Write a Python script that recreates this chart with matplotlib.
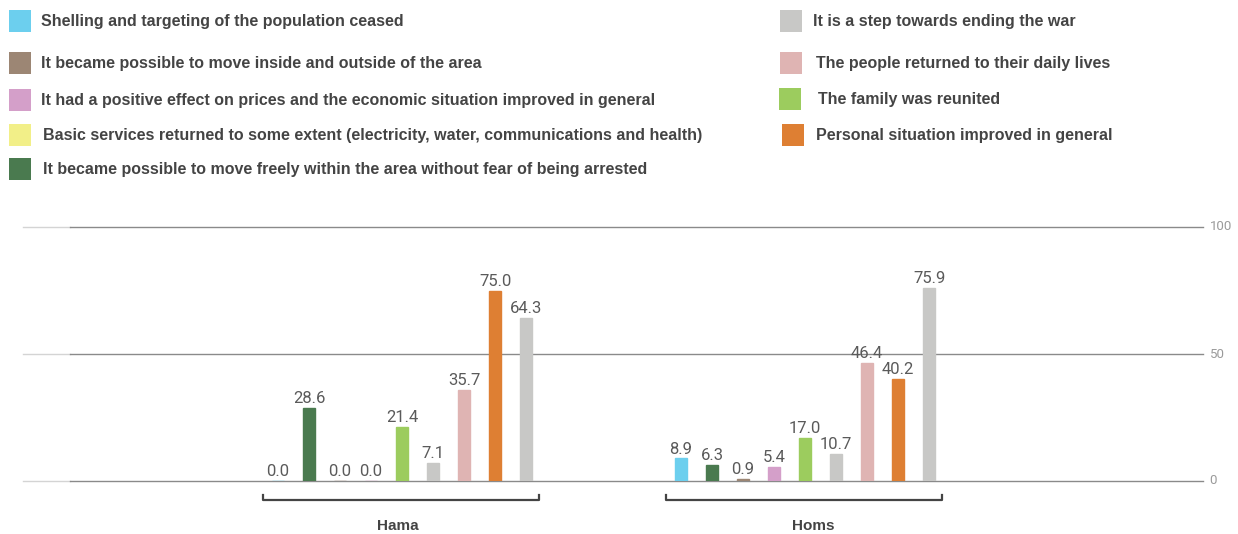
import matplotlib
matplotlib.use("Agg")
import matplotlib.pyplot as plt
from matplotlib.patches import Rectangle
from matplotlib.transforms import blended_transform_factory

# ---- data -------------------------------------------------------------
regions = ["Hama", "Homs"]

bar_names = [
    "Shelling and targeting of the population ceased",
    "It became possible to move freely within the area without fear of being arrested",
    "It became possible to move inside and outside of the area",
    "It had a positive effect on prices and the economic situation improved in general",
    "The family was reunited",
    "Basic services returned to some extent (electricity, water, communications and health)",
    "The people returned to their daily lives",
    "Personal situation improved in general",
    "It is a step towards ending the war",
]
hama_values = [0.0, 28.6, 0.0, 0.0, 21.4, 7.1, 35.7, 75.0, 64.3]
homs_values = [8.9, 6.3, 0.9, 5.4, 17.0, 10.7, 46.4, 40.2, 75.9]
bar_colors = ["#6ccfee", "#4a7a4f", "#9c8674", "#d49fc9", "#9ccc5e",
              "#c8c8c6", "#dfb4b3", "#de7f33", "#c8c8c6"]

legend_left = [
    ("Shelling and targeting of the population ceased", "#6ccfee"),
    ("It became possible to move inside and outside of the area", "#9c8674"),
    ("It had a positive effect on prices and the economic situation improved in general", "#d49fc9"),
    ("Basic services returned to some extent (electricity, water, communications and health)", "#f2ef88"),
    ("It became possible to move freely within the area without fear of being arrested", "#4a7a4f"),
]
legend_right = [
    ("It is a step towards ending the war", "#c8c8c6"),
    ("The people returned to their daily lives", "#dfb4b3"),
    ("The family was reunited", "#9ccc5e"),
    ("Personal situation improved in general", "#de7f33"),
]
y_ticks = [0, 50, 100]

# ---- figure -----------------------------------------------------------
W, H = 1238, 534
fig = plt.figure(figsize=(W / 100, H / 100), dpi=100)
fig.patch.set_facecolor("white")

def px_box(x0, y0, x1, y1):
    return [x0 / W, 1 - y1 / H, (x1 - x0) / W, (y1 - y0) / H]

ax = fig.add_axes(px_box(23, 227, 1200, 481))
ax.set_ylim(0, 100)
group_gap = 13
ax.set_xlim(-8.23, 29.74)
for s in ax.spines.values():
    s.set_visible(False)
ax.set_xticks([])
ax.set_yticks([])

# gridlines (light at the far left, darker across the plot)
for v in y_ticks:
    ax.plot([-8.23, -6.7], [v, v], color="#d4d4d4", lw=1, clip_on=False, zorder=1)
    ax.plot([-6.7, 29.84], [v, v], color="#8a8a8a", lw=1, clip_on=False, zorder=1)
    ax.text(30.05, v, str(v), ha="left", va="center", fontsize=9.5,
            family="Roboto", fontweight="normal", color="#9a9a9a")

bar_w = 0.39
trans = blended_transform_factory(ax.transData, ax.transAxes)
label_shift = [-0.15, 0.25]
for g, (region, vals) in enumerate(zip(regions, [hama_values, homs_values])):
    xs = [g * group_gap + i for i in range(len(vals))]
    ax.bar(xs, vals, width=bar_w, color=bar_colors, edgecolor=bar_colors,
           linewidth=1.0, zorder=3)
    for x, v in zip(xs, vals):
        ax.annotate(f"{v:.1f}", (x, v), xytext=(0, 3.5), textcoords="offset points",
                    ha="center", va="baseline", fontsize=12, family="Roboto",
                    fontweight="normal", color="#5a5a5a")
    x0, x1 = xs[0] - 0.48, xs[-1] + 0.42
    ax.plot([x0, x0, x1, x1], [-0.055, -0.075, -0.075, -0.055], transform=trans,
            color="#444444", lw=1.6, clip_on=False)
    ax.text((xs[0] + xs[-1]) / 2 + label_shift[g], -0.177, region, transform=trans,
            ha="center", va="center", fontsize=11, fontweight="bold",
            family="Liberation Sans", color="#444444")

# ---- legend ---------------------------------------------------------------
lax = fig.add_axes([0, 0, 1, 1])
lax.set_xlim(0, W)
lax.set_ylim(H, 0)
lax.axis("off")

left_rows = [21, 63, 100, 135, 169]
left_text_x = [41, 41, 41, 43, 43]
for (label, col), y, tx in zip(legend_left, left_rows, left_text_x):
    lax.add_patch(Rectangle((9, y - 11), 22, 22, color=col, lw=0))
    lax.text(tx, y + 0.5, label, ha="left", va="center", fontsize=11.5, fontweight="bold",
             family="Liberation Sans", color="#444444")

right_rows = [21, 63, 99, 135]
right_sq_x = [780, 780, 779, 782]
right_text_x = [813, 816, 818, 816]
for (label, col), y, sx, tx in zip(legend_right, right_rows, right_sq_x, right_text_x):
    lax.add_patch(Rectangle((sx, y - 11), 22, 22, color=col, lw=0))
    lax.text(tx, y + 0.5, label, ha="left", va="center", fontsize=11.5, fontweight="bold",
             family="Liberation Sans", color="#444444")

fig.savefig("out.png", dpi=100, facecolor="white")
